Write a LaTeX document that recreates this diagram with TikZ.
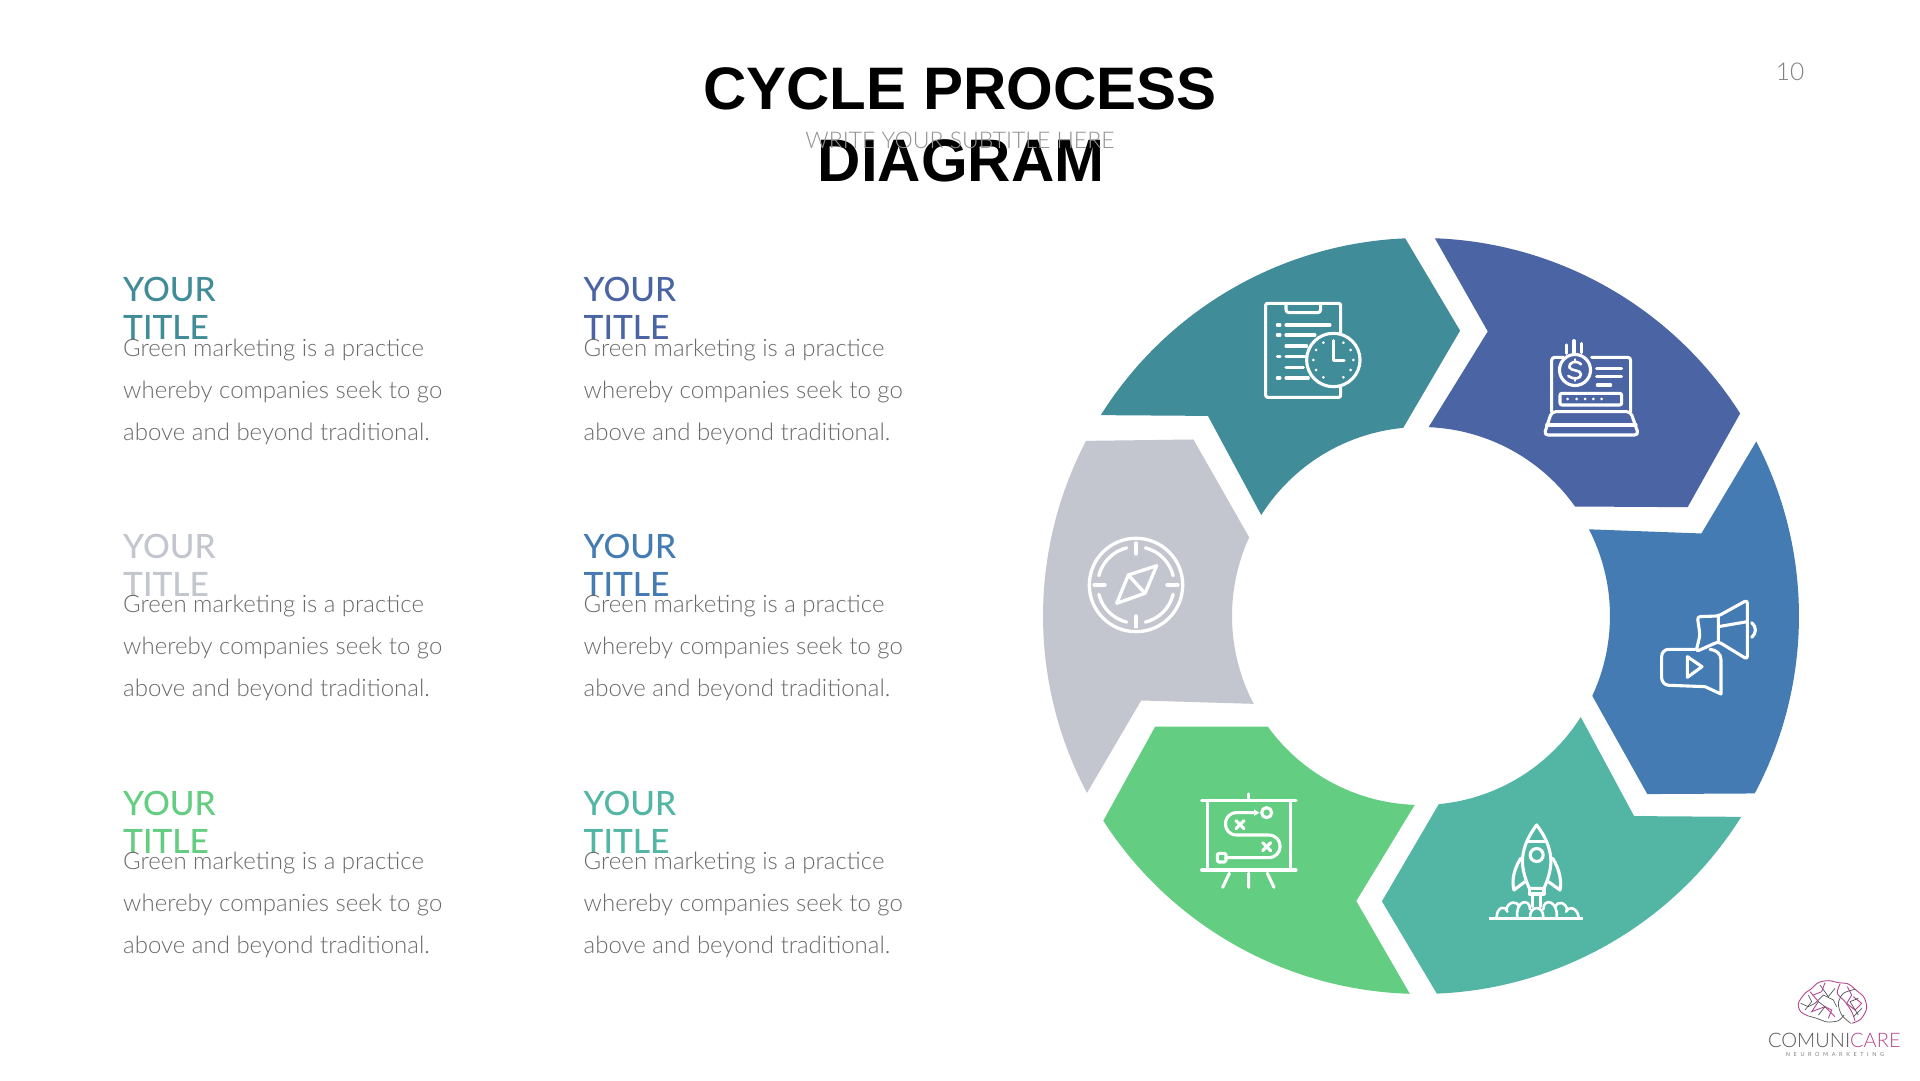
\documentclass[tikz,border=0pt]{standalone}
\usepackage{fontspec}
\setmainfont{Liberation Sans}
\newfontfamily\latoreg{Lato}
\newfontfamily\latolight{Lato Light}
\newfontfamily\latomed{Lato Medium}
\definecolor{cteal}{HTML}{408C98}
\definecolor{cnavy}{HTML}{4B64A3}
\definecolor{cblue}{HTML}{437BB2}
\definecolor{cmint}{HTML}{53B6A5}
\definecolor{cgreen}{HTML}{63CD81}
\definecolor{cgrey}{HTML}{C3C6CE}
\definecolor{bodygrey}{HTML}{6A6A6A}
\definecolor{subgrey}{HTML}{929292}
\definecolor{pagegrey}{HTML}{808080}
\definecolor{logopink}{HTML}{B2478F}
\definecolor{logogrey}{HTML}{55555A}
\newcommand{\ringseg}[2]{%
  \begin{scope}[rotate=#1]
    \fill[#2] (147.9:378pt) arc[start angle=147.9,end angle=92.4,radius=378pt]
      -- (82.2:288pt) -- (95.4:189pt) arc[start angle=95.4,end angle=147.7,radius=189pt]
      -- (136.8:292.3pt) -- cycle;
  \end{scope}}
\newcommand{\textblock}[5]{% x, heading baseline Y offset, body offset, colour, name
  \node[headtext,text=#4] (#5a) at (#1,{778.5-#2}) {YOUR};
  \node[headtext,text=#4] (#5b) at (#1,{740.5-#2}) {TITLE};
  \node[bodytext] (#5c) at (#1,{723.5-#3}) {Green marketing is a practice};
  \node[bodytext] (#5d) at (#1,{681.5-#3}) {whereby companies seek to go};
  \node[bodytext] (#5e) at (#1,{639.5-#3}) {above and beyond traditional.};}
\tikzset{
  headtext/.style={anchor=base west,inner sep=0pt,font=\latomed\fontsize{33.5}{33.5}\selectfont},
  bodytext/.style={anchor=base west,inner sep=0pt,text=bodygrey,font=\latolight\fontsize{24}{24}\selectfont},
  titletext/.style={anchor=base,inner sep=0pt,text=black,font=\bfseries\fontsize{60}{60}\selectfont},
  ic/.style={x=.33333pt,y=-.33333pt,draw=white,line width=3.1pt,line cap=round,line join=round},
  icfine/.style={line width=2.6pt},
  brainp/.style={draw=logopink,line width=.9pt},
  braing/.style={draw=logogrey,line width=.7pt},
}
\begin{document}
\begin{tikzpicture}[x=1pt,y=1pt]
\useasboundingbox (0,0) rectangle (1920,1080);
\fill[white] (0,0) rectangle (1920,1080);
% ring
\begin{scope}[shift={(1421pt,464pt)}]
  \ringseg{0}{cteal}
  \ringseg{-60}{cnavy}
  \ringseg{-120.4}{cblue}
  \ringseg{-180}{cmint}
  \ringseg{-239.6}{cgreen}
  \ringseg{-300}{cgrey}
\end{scope}
% title
\node[titletext] (title1) at (960,970) {CYCLE PROCESS};
\node[titletext] (title2) at (961,898) {DIAGRAM};
\node[anchor=base,inner sep=0pt,text=subgrey,font=\latolight\fontsize{23}{23}\selectfont] (subtitle) at (960,931) {WRITE YOUR SUBTITLE HERE};
\node[anchor=base,inner sep=0pt,text=pagegrey,font=\latolight\fontsize{24.5}{24.5}\selectfont] (pagenum) at (1790,999) {10};
% text blocks
\textblock{123}{0}{0}{cteal}{ta}
\textblock{583.5}{0}{0}{cnavy}{tb}
\textblock{123}{256.7}{255.7}{cgrey}{tc}
\textblock{583.5}{256.7}{255.7}{cblue}{td}
\textblock{123}{514.3}{513.3}{cgreen}{te}
\textblock{583.5}{514.3}{513.3}{cmint}{tf}
% clipboard + clock
\begin{scope}[shift={(1250pt,800pt)},ic]
  \draw[rounded corners=2pt] (272,160) -- (272,70) -- (47,70) -- (47,352) -- (272,352) -- (272,322);
  \draw[rounded corners=3pt] (108,72) -- (108,98) -- (212,98) -- (212,72);
  \foreach \yy/\xe in {135/240,165/195,198/170,230/165,262/160,294/175}{\draw (108,\yy) -- (\xe,\yy);}
  \foreach \yy in {135,165,230,294}{\draw (82,\yy) -- (90,\yy);}
  \draw (250,240) circle[radius=26.7pt];
  \draw (250,182) -- (250,242) -- (282,242);
  \foreach \a in {0,30,60,120,150,180,210,240,300,330}{\fill[white] (250,240) ++(\a:60) circle[radius=1.5pt];}
\end{scope}
% laptop + coin
\begin{scope}[shift={(1250pt,800pt)},ic]
  \draw[rounded corners=3pt] (905,395) -- (905,232) -- (940,232);
  \draw[rounded corners=3pt] (1025,232) -- (1142,232) -- (1142,395);
  \draw (975,270) circle[radius=15.5pt];
  \draw[icfine] (993,253) .. controls (978,238) and (955,248) .. (958,262) .. controls (962,274) and (992,268) .. (993,283) .. controls (993,297) and (970,300) .. (955,288);
  \draw[icfine] (975,238) -- (975,246) (975,294) -- (975,302);
  \draw (1040,265) -- (1115,265) (1040,290) -- (1115,290) (1042,315) -- (1082,315);
  \draw (950,195) -- (950,220) (972,182) -- (972,220) (995,190) -- (995,218);
  \draw[rounded corners=2pt] (930,340) rectangle (1115,375);
  \foreach \xx in {953,980,1005,1030,1055}{\fill[white] (\xx,357) circle[radius=1.5pt];}
  \draw[rounded corners=4pt] (905,395) -- (1142,395) -- (1166,465) -- (882,465) -- cycle;
  \draw (890,435) -- (1158,435);
\end{scope}
% megaphone + video bubble
\begin{scope}[shift={(1640pt,500pt)},ic]
  \draw[rounded corners=3pt] (322,60) -- (235,108) -- (172,110) -- (180,165) -- (168,215) -- (235,185) -- (322,238) -- cycle;
  \draw (235,108) -- (235,185) (235,140) -- (322,125);
  \draw (335,128) .. controls (350,140) and (350,160) .. (335,172);
  \draw[rounded corners=7pt] (165,208) -- (65,208) -- (65,315) -- (195,320);
  \draw (195,320) -- (243,342) -- (243,240) .. controls (243,222) and (230,210) .. (210,208);
  \draw (142,230) -- (186,260) -- (142,292) -- cycle;
\end{scope}
% rocket
\begin{scope}[shift={(1480pt,270pt)},ic]
  \draw (170,45) .. controls (140,85) and (120,130) .. (130,180) .. controls (135,205) and (142,222) .. (148,235) -- (192,235) .. controls (198,222) and (205,205) .. (210,180) .. controls (220,130) and (200,85) .. (170,45) -- cycle;
  \draw (142,95) -- (198,95);
  \draw (170,135) circle[radius=6.5pt];
  \draw (122,145) .. controls (100,180) and (95,215) .. (102,240) -- (135,215);
  \draw (218,145) .. controls (240,180) and (245,215) .. (240,240) -- (205,215);
  \draw (148,235) -- (148,252) -- (192,252) -- (192,235);
  \draw (158,252) -- (158,290) (182,252) -- (182,290);
  \draw[line width=3.6pt,line cap=butt] (28,325) -- (310,325);
  \draw[icfine] (50,322) .. controls (50,290) and (78,285) .. (82,305);
  \draw[icfine] (78,300) .. controls (85,272) and (112,272) .. (118,290);
  \draw[icfine] (112,322) .. controls (105,272) and (150,262) .. (150,298);
  \draw[icfine] (150,322) .. controls (150,285) and (190,285) .. (190,322);
  \draw[icfine] (190,298) .. controls (190,262) and (235,272) .. (230,322);
  \draw[icfine] (225,290) .. controls (232,272) and (258,275) .. (262,302);
  \draw[icfine] (258,305) .. controls (262,288) and (292,290) .. (296,322);
\end{scope}
% strategy board
\begin{scope}[shift={(1190pt,300pt)},ic]
  \draw (35,62) -- (318,62) (35,270) -- (318,270) (176,42) -- (176,62);
  \draw (52,62) -- (52,270) (302,62) -- (302,270);
  \draw (118,280) -- (98,322) (176,280) -- (176,322) (232,280) -- (252,322);
  \draw[rounded corners=1.5pt] (82,220) rectangle (108,246);
  \draw (108,233) -- (235,233) .. controls (282,233) and (282,165) .. (235,165) -- (140,165) .. controls (95,165) and (95,98) .. (140,98) -- (200,98);
  \fill[white] (208,98) -- (192,88) -- (192,108) -- cycle;
  \draw (230,98) circle[radius=5pt];
  \draw (138,122) -- (162,146) (162,122) -- (138,146);
  \draw (218,188) -- (242,212) (242,188) -- (218,212);
\end{scope}
% compass
\begin{scope}[shift={(1136pt,495pt)},line width=3.3pt,line cap=round,line join=round]
  \draw[white] (0,0) circle[radius=46.7pt];
  \foreach \s in {0,90,180,270}{
    \draw[white] ({\s+14}:38.3pt) arc[start angle=\s+14,end angle=\s+76,radius=38.3pt];
    \draw[white] (\s:42pt) -- (\s:31pt);
  }
  \draw[white] (20.7pt,19.3pt) -- (-7.7pt,10pt) -- (-19.3pt,-18.3pt) -- (9pt,-8.3pt) -- cycle;
  \draw[white] (-7.7pt,10pt) -- (9pt,-8.3pt);
\end{scope}
% logo
\begin{scope}[shift={(1740pt,120pt)},x=.33333pt,y=-.33333pt]
  \draw[brainp] plot[smooth] coordinates {(205,168) (182,155) (175,130) (195,100) (212,88) (235,68) (265,62) (295,68) (325,72) (350,92) (372,112) (380,145) (362,178) (335,190)};
  \draw[braing] plot[smooth] coordinates {(205,168) (230,175) (262,186) (295,182) (312,165)};
  \draw[brainp] plot[smooth] coordinates {(300,72) (292,100) (315,125) (335,155) (345,182)};
  \draw[braing] plot[smooth] coordinates {(345,88) (310,100) (295,130) (305,165) (332,190)};
  \draw[braing] (182,130) -- (205,140) -- (225,130) -- (250,105) -- (280,120) -- (290,140);
  \draw[brainp] (210,95) -- (235,125) -- (215,155) -- (255,140) -- (285,170);
  \draw[braing] (240,75) -- (265,110) -- (285,85);
  \draw[brainp] (255,68) -- (245,95) -- (220,105);
  \draw[braing] (195,150) -- (215,125) -- (205,105);
  \draw[brainp] (255,140) -- (275,150) -- (265,175);
  \draw[braing] (235,165) -- (255,140) -- (235,125);
  \draw[brainp] (340,110) -- (365,130) -- (345,150) -- (320,130);
  \draw[braing] (355,115) -- (330,125) -- (355,165);
  \draw[brainp] (322,80) -- (335,105) -- (320,130);
  \draw[braing] (365,145) -- (340,170);
  \node[anchor=base,inner sep=0pt,font=\latolight\fontsize{20}{20}\selectfont] (logo1) at (283,261) {\textcolor{logogrey}{COMUNI}\textcolor{logopink}{CARE}};
  \node[anchor=base,inner sep=0pt,text=gray,font=\latoreg\fontsize{5.5}{5.5}\selectfont] (logo2) at (285,289) {N\hspace{3.6pt}E\hspace{3.6pt}U\hspace{3.6pt}R\hspace{3.6pt}O\hspace{3.6pt}M\hspace{3.6pt}A\hspace{3.6pt}R\hspace{3.6pt}K\hspace{3.6pt}E\hspace{3.6pt}T\hspace{3.6pt}I\hspace{3.6pt}N\hspace{3.6pt}G};
\end{scope}
\end{tikzpicture}
\end{document}
